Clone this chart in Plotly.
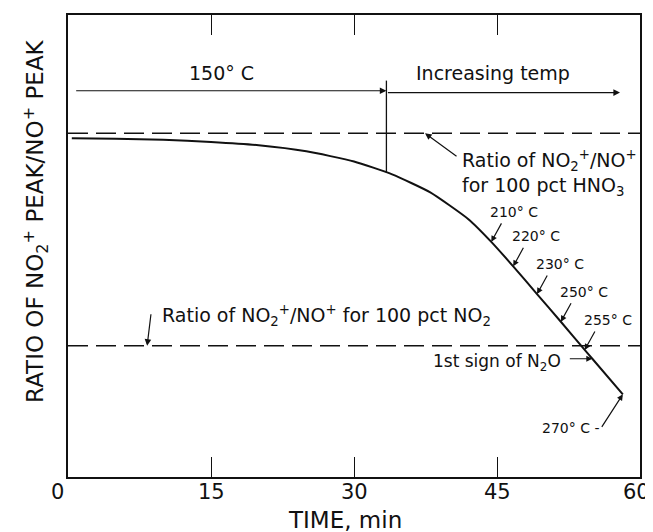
import numpy as np
import plotly.graph_objects as go

# ---- data ----
time_min = [0.4, 5, 10, 15, 20, 25, 30, 34, 38, 42, 44.4, 46.7, 49.2, 51.7, 54.2, 55.0, 58.2]
ratio = [0.733, 0.732, 0.730, 0.725, 0.718, 0.705, 0.683, 0.655, 0.616, 0.558,
         0.509, 0.456, 0.396, 0.336, 0.275, 0.256, 0.179]

ratio_hno3 = 0.744   # NO2+/NO+ for 100 pct HNO3
ratio_no2 = 0.284    # NO2+/NO+ for 100 pct NO2

x_ticks = [0, 15, 30, 45, 60]
x_tick_labels = ["0", "15", "30", "45", "60"]

phase_labels = ["150° C", "Increasing temp"]
phase_start = [0.7, 33.4]
phase_end = [33.4, 57.9]

temp_labels = ["210° C", "220° C", "230° C", "250° C", "255° C"]
temp_times = [44.4, 46.7, 49.2, 51.7, 54.2]
n2o_time = 55.0
end_label = "270° C"
end_time = 58.2

FONT = "DejaVu Sans"
BLACK = "#111111"
# the page body adds an 8px margin, so the figure is 8px smaller
FIG_W, FIG_H = 645, 524


def on_curve(t):
    return float(np.interp(t, time_min, ratio))


def text_ann(**kw):
    d = dict(showarrow=False, xanchor="center", yanchor="middle")
    d.update(kw)
    return d


def arrow_ann(**kw):
    d = dict(text="", showarrow=True, arrowhead=2, arrowsize=1.1, arrowwidth=1.2,
             arrowcolor=BLACK, standoff=0, xref="x", yref="y")
    d.update(kw)
    return d


fig = go.Figure()

# reference (dashed) levels
for level in (ratio_hno3, ratio_no2):
    fig.add_trace(go.Scatter(x=[x_ticks[0], x_ticks[-1]], y=[level, level], mode="lines",
                             line=dict(color=BLACK, width=1.4, dash="20px,8px"),
                             hoverinfo="skip", showlegend=False))

# main curve
fig.add_trace(go.Scatter(x=time_min, y=ratio, mode="lines",
                         line=dict(color=BLACK, width=2, shape="spline", smoothing=0.5),
                         showlegend=False))

annotations = []
shapes = []

# phase arrows and labels
phase_arrow_y = [0.836, 0.832]
phase_text_dx = [-1.0, -1.1]
for lab, s, e, ya, dx in zip(phase_labels, phase_start, phase_end, phase_arrow_y, phase_text_dx):
    annotations.append(arrow_ann(x=e, y=ya, ax=s, ay=ya, axref="x", ayref="y"))
    annotations.append(text_ann(x=(s + e) / 2 + dx, y=0.875, xref="x", yref="y",
                                text=lab, font=dict(size=19)))

# divider between phases
shapes.append(dict(type="line", xref="x", yref="y", x0=phase_start[1], x1=phase_start[1],
                   y0=0.858, y1=on_curve(phase_start[1]), line=dict(color=BLACK, width=1.3)))

# HNO3 annotation
annotations.append(arrow_ann(x=37.45, y=ratio_hno3, ax=33, ay=24))
annotations.append(text_ann(x=41.1, y=0.657, xref="x", yref="y", xanchor="left", align="left",
                            text="Ratio of NO<sub>2</sub><sup>+</sup>/NO<sup>+</sup><br>for 100 pct HNO<sub>3</sub>",
                            font=dict(size=19)))

# NO2 annotation
annotations.append(arrow_ann(x=8.3, y=ratio_no2, ax=4, ay=-33))
annotations.append(text_ann(x=9.65, y=0.349, xref="x", yref="y", xanchor="left",
                            text="Ratio of NO<sub>2</sub><sup>+</sup>/NO<sup>+</sup> for 100 pct NO<sub>2</sub>",
                            font=dict(size=19)))

# temperature labels along the curve
for lab, t in zip(temp_labels, temp_times):
    yv = on_curve(t)
    annotations.append(arrow_ann(x=t, y=yv, ax=11, ay=-20, arrowsize=1.0))
    annotations.append(text_ann(x=t, y=yv, xref="x", yref="y", xshift=23, yshift=30,
                                text=lab, font=dict(size=14)))

# first sign of N2O
yv = on_curve(n2o_time)
annotations.append(arrow_ann(x=n2o_time, y=yv, ax=-24, ay=0, arrowsize=1.0))
annotations.append(text_ann(x=n2o_time, y=yv, xref="x", yref="y", xanchor="right", xshift=-29,
                            yshift=-4, text="1st sign of N<sub>2</sub>O", font=dict(size=17)))

# end point 270 C
yv = on_curve(end_time)
annotations.append(arrow_ann(x=end_time, y=yv, ax=-22, ay=34, arrowsize=1.0))
annotations.append(text_ann(x=end_time, y=yv, xref="x", yref="y", xanchor="right", xshift=-22,
                            yshift=-34, text=end_label + " -", font=dict(size=14)))

# x tick labels
tick_shift = {0: -11, 60: -4}
for v, lab in zip(x_ticks, x_tick_labels):
    annotations.append(text_ann(x=v, y=-0.032, xref="x", yref="paper", text=lab,
                                xshift=tick_shift.get(v, 0), font=dict(size=21)))

# axis titles
annotations.append(text_ann(x=-0.058, y=0.554, xref="paper", yref="paper", textangle=-90,
                            text="RATIO OF NO<sub>2</sub><sup>+</sup> PEAK/NO<sup>+</sup> PEAK",
                            font=dict(size=23)))
annotations.append(text_ann(x=0.484, y=-0.093, xref="paper", yref="paper",
                            text="TIME, min", font=dict(size=23)))

fig.update_layout(
    width=FIG_W, height=FIG_H,
    margin=dict(l=60, r=13, t=5, b=55),
    paper_bgcolor="white", plot_bgcolor="white",
    font=dict(family=FONT, color=BLACK),
    showlegend=False,
    annotations=annotations,
    shapes=shapes,
    xaxis=dict(range=[x_ticks[0], x_ticks[-1]], tickvals=x_ticks, showticklabels=False,
               ticks="inside", ticklen=20, tickwidth=1.2, tickcolor=BLACK,
               showline=True, linecolor=BLACK, linewidth=1.5, mirror="ticks",
               showgrid=False, zeroline=False),
    yaxis=dict(range=[0, 1], showticklabels=False, ticks="", showline=True,
               linecolor=BLACK, linewidth=1.5, mirror=True, showgrid=False, zeroline=False),
)

fig.write_html("out.html")
